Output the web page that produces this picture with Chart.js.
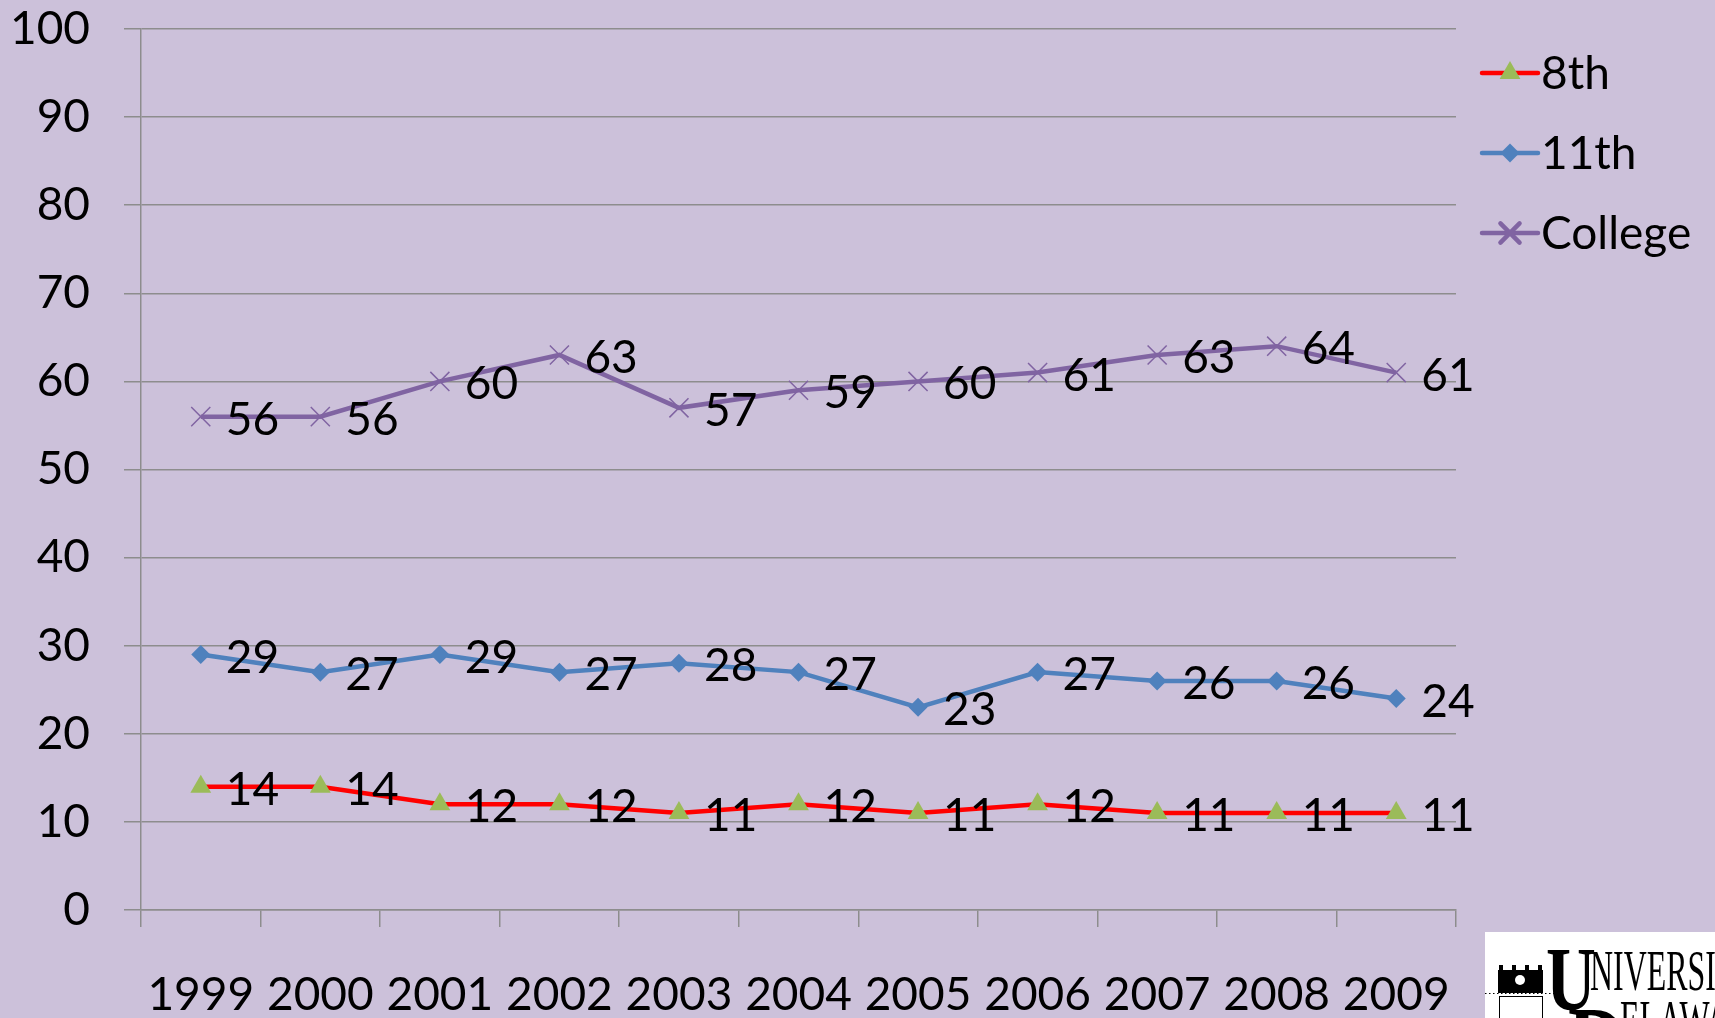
<!DOCTYPE html>
<html>
<head>
<meta charset="utf-8">
<script src="https://cdn.jsdelivr.net/npm/chart.js@4.4.1/dist/chart.umd.min.js"></script>
<style>
  html, body { margin: 0; padding: 0; background: #ccc1da; }
  #wrap { position: relative; width: 1715px; height: 1018px; }
</style>
</head>
<body>
<div id="wrap"><canvas id="chart"></canvas></div>
<script>
// ===== data =====
const years = ['1999', '2000', '2001', '2002', '2003', '2004', '2005', '2006', '2007', '2008', '2009'];
const eighth = [14, 14, 12, 12, 11, 12, 11, 12, 11, 11, 11];
const eleventh = [29, 27, 29, 27, 28, 27, 23, 27, 26, 26, 24];
const college = [56, 56, 60, 63, 57, 59, 60, 61, 63, 64, 61];
const yTicks = [0, 10, 20, 30, 40, 50, 60, 70, 80, 90, 100];

const FONT = 'Lato, "Open Sans", sans-serif';
const GRID = '#8d8d8d';

// value labels to the right of each point
const valueLabels = {
  id: 'valueLabels',
  afterDatasetsDraw(chart) {
    const ctx = chart.ctx;
    ctx.save();
    ctx.font = `46px ${FONT}`;
    ctx.fillStyle = '#000';
    ctx.textAlign = 'left';
    ctx.textBaseline = 'alphabetic';
    chart.data.datasets.forEach((ds, i) => {
      const meta = chart.getDatasetMeta(i);
      meta.data.forEach((pt, j) => {
        ctx.fillText(String(ds.data[j]), pt.x + 25, pt.y + 18);
      });
    });
    ctx.restore();
  }
};

// legend on the right: line sample + marker + text
const sideLegend = {
  id: 'sideLegend',
  afterDraw(chart) {
    const ctx = chart.ctx;
    const x0 = 1482, x1 = 1538, tx = 1541;
    const rows = [73, 153, 233];
    ctx.save();
    chart.data.datasets.forEach((ds, i) => {
      const y = rows[i];
      ctx.strokeStyle = ds.borderColor;
      ctx.lineWidth = 4.5;
      ctx.lineCap = 'round';
      ctx.beginPath();
      ctx.moveTo(x0, y);
      ctx.lineTo(x1, y);
      ctx.stroke();
      ctx.fillStyle = ds.pointBackgroundColor;
      ctx.strokeStyle = ds.pointBorderColor;
      Chart.helpers.drawPoint(ctx, {
        pointStyle: ds.pointStyle,
        radius: ds.pointRadius,
        borderWidth: ds.pointBorderWidth,
        rotation: 0
      }, (x0 + x1) / 2, y);
      ctx.fillStyle = '#000';
      ctx.font = `46px ${FONT}`;
      ctx.textBaseline = 'alphabetic';
      ctx.fillText(ds.label, tx, y + 16);
    });
    ctx.restore();
  }
};

// university logo box, bottom right corner
const logo = {
  id: 'logo',
  afterDraw(chart) {
    const ctx = chart.ctx;
    ctx.save();
    ctx.fillStyle = '#fff';
    ctx.fillRect(1485, 932, 230, 86);
    ctx.beginPath();
    ctx.rect(1485, 932, 230, 86);
    ctx.clip();
    ctx.fillStyle = '#000';
    // seal
    ctx.fillRect(1498, 970, 45, 23);
    for (let k = 0; k < 4; k++) ctx.fillRect(1499 + k * 13, 965, 4, 6);
    ctx.strokeStyle = '#000';
    ctx.lineWidth = 1;
    ctx.strokeRect(1499.5, 996.5, 43, 22);
    ctx.fillStyle = '#fff';
    ctx.beginPath();
    ctx.arc(1520, 980, 5, 0, Math.PI * 2);
    ctx.fill();
    // dotted rule
    ctx.setLineDash([1.5, 2.5]);
    ctx.beginPath();
    ctx.moveTo(1485, 993.5);
    ctx.lineTo(1560, 993.5);
    ctx.stroke();
    ctx.setLineDash([]);
    // lettering
    ctx.fillStyle = '#000';
    ctx.textBaseline = 'alphabetic';
    ctx.save();
    ctx.translate(1546, 1010);
    ctx.scale(0.75, 1);
    ctx.font = 'bold 92px "Liberation Serif", serif';
    ctx.fillText('U', 0, 0);
    ctx.restore();
    ctx.save();
    ctx.translate(1568, 1075);
    ctx.scale(0.8, 1);
    ctx.font = 'bold 100px "Liberation Serif", serif';
    ctx.fillText('D', 0, 0);
    ctx.restore();
    ctx.save();
    ctx.translate(1590, 990);
    ctx.scale(0.55, 1);
    ctx.font = '58px "Liberation Serif", serif';
    ctx.fillText('NIVERSITY', 0, 0);
    ctx.restore();
    ctx.save();
    ctx.translate(1620, 1040);
    ctx.scale(0.55, 1);
    ctx.font = '58px "Liberation Serif", serif';
    ctx.fillText('ELAWARE', 0, 0);
    ctx.restore();
    ctx.restore();
  }
};

new Chart(document.getElementById('chart'), {
  type: 'line',
  data: {
    labels: years,
    datasets: [
      {
        label: '8th',
        data: eighth,
        borderColor: '#ff0000',
        borderWidth: 4.5,
        pointStyle: 'triangle',
        pointRadius: 12,
        pointBackgroundColor: '#9bbb59',
        pointBorderColor: '#9bbb59',
        pointBorderWidth: 0,
        tension: 0
      },
      {
        label: '11th',
        data: eleventh,
        borderColor: '#4f81bd',
        borderWidth: 4.5,
        pointStyle: 'rectRot',
        pointRadius: 9.5,
        pointBackgroundColor: '#4f81bd',
        pointBorderColor: '#4f81bd',
        pointBorderWidth: 0,
        tension: 0
      },
      {
        label: 'College',
        data: college,
        borderColor: '#8064a2',
        borderWidth: 4.5,
        pointStyle: 'crossRot',
        pointRadius: 13.5,
        pointBackgroundColor: '#8064a2',
        pointBorderColor: '#8064a2',
        pointBorderWidth: 1.5,
        tension: 0
      }
    ]
  },
  options: {
    responsive: true,
    maintainAspectRatio: false,
    animation: false,
    events: [],
    layout: { padding: { top: 29, right: 259, left: 0, bottom: 0 } },
    plugins: {
      legend: { display: false },
      tooltip: { enabled: false }
    },
    scales: {
      x: {
        type: 'category',
        offset: true,
        grid: {
          offset: true,
          drawOnChartArea: false,
          drawTicks: true,
          tickLength: 17,
          color: GRID,
          lineWidth: 1.5
        },
        border: { color: GRID, width: 1.5 },
        ticks: {
          color: '#000',
          font: { family: FONT, size: 46 },
          padding: 41,
          maxRotation: 0,
          autoSkip: false
        },
        afterFit: (s) => { s.height = 108; s.paddingLeft = 0; s.paddingRight = 0; }
      },
      y: {
        min: 0,
        max: 100,
        afterBuildTicks: (s) => { s.ticks = yTicks.map(v => ({ value: v })); },
        grid: {
          color: GRID,
          lineWidth: 1.5,
          drawTicks: true,
          tickLength: 17
        },
        border: { color: GRID, width: 1.5 },
        ticks: {
          color: '#000',
          font: { family: FONT, size: 46 },
          padding: 34
        },
        afterFit: (s) => { s.width = 141; s.paddingTop = 0; s.paddingBottom = 0; }
      }
    }
  },
  plugins: [valueLabels, sideLegend, logo]
});
</script>
</body>
</html>
